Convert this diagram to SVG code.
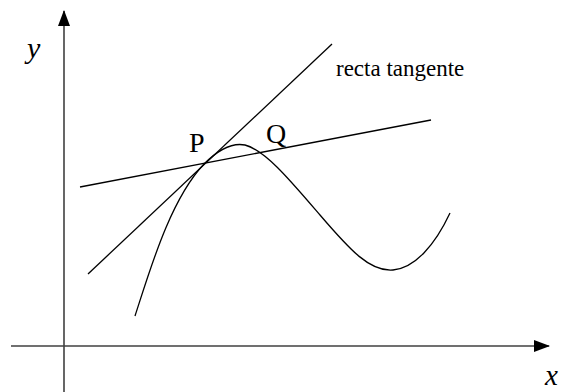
<svg xmlns="http://www.w3.org/2000/svg" width="561" height="392" viewBox="0 0 561 392">
<style>
.ax{stroke:#404040;stroke-width:1.6;fill:none}
.ln{stroke:#000;stroke-width:1.3;fill:none}
text{font-family:"Liberation Serif","Times New Roman",Times,serif;fill:#000}
</style>
<defs>
<marker id="arr" markerWidth="16" markerHeight="12" refX="15" refY="6" orient="auto" markerUnits="userSpaceOnUse">
<path d="M0,0 L16,6 L0,12 Z" fill="#000"/>
</marker>
</defs>
<rect width="561" height="392" fill="#fff"/>
<g id="axes">
<line class="ax" x1="64" y1="392" x2="64" y2="11" marker-end="url(#arr)"/>
<line class="ax" x1="11" y1="346" x2="549" y2="346" marker-end="url(#arr)"/>
</g>
<g id="connectors">
<line class="ln" x1="88" y1="274" x2="332" y2="44"/>
<line class="ln" x1="80" y1="187" x2="431" y2="120"/>
<path class="ln" d="M135,316 C150,270 170,200 204,164 C222,146 235,143 245,145 C265,150 290,180 320,215 C350,250 370,272 393,270 C415,268 435,245 450,213"/>
</g>
<g id="labels">
<text x="27" y="58" font-size="30" font-style="italic" font-family="Liberation Serif, serif">y</text>
<text x="545" y="385" font-size="29" font-style="italic" font-family="Liberation Serif, serif">x</text>
<text x="189" y="152" font-size="28" font-family="Liberation Serif, serif">P</text>
<text x="266" y="143" font-size="28" font-family="Liberation Serif, serif">Q</text>
<text x="336" y="76" font-size="23" font-family="Liberation Serif, serif">recta tangente</text>
</g>
</svg>
